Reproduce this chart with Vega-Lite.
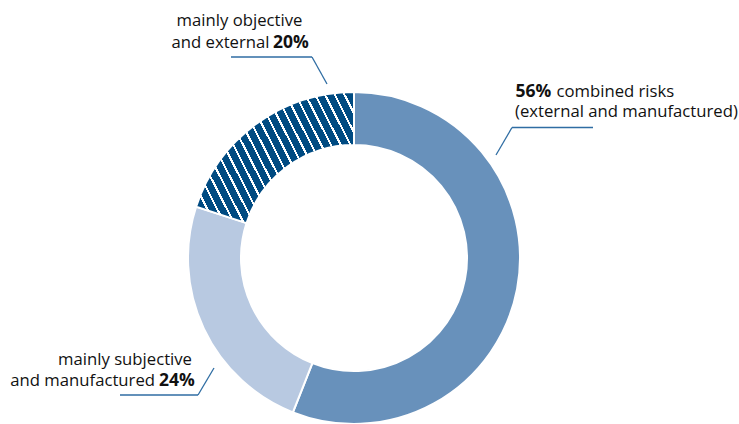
{
  "$schema": "https://vega.github.io/schema/vega-lite/v6.json",
  "width": 332,
  "height": 332,
  "autosize": {"type": "none"},
  "padding": {"left": 188, "top": 92, "right": 219, "bottom": 0},
  "background": "white",
  "config": {"view": {"stroke": null}, "text": {"font": "Open Sans", "fontSize": 16.7, "color": "#111111", "baseline": "alphabetic"}},
  "data": {"values": [
    {"key": "combined", "share": 0.56, "label_a": "combined risks", "label_b": "(external and manufactured)"},
    {"key": "subjective", "share": 0.24, "label_a": "mainly subjective", "label_b": "and manufactured"},
    {"key": "objective", "share": 0.20, "label_a": "mainly objective", "label_b": "and external"}
  ]},
  "layer": [
    {
      "mark": {"type": "arc", "innerRadius": 113, "outerRadius": 166, "stroke": "white", "strokeWidth": 2},
      "encoding": {
        "theta": {"field": "share", "type": "quantitative", "stack": true},
        "order": {"field": "share", "type": "quantitative", "sort": "descending"},
        "color": {
          "condition": {"test": "datum.key === 'objective'", "value": {"gradient": "linear", "x1": 0, "y1": 1, "x2": 1.207, "y2": 0.49, "stops": [
            {"offset": 0, "color": "#004b82"}, {"offset": 0.0335, "color": "#004b82"}, {"offset": 0.0335, "color": "#ffffff"}, {"offset": 0.0435, "color": "#ffffff"},
            {"offset": 0.0435, "color": "#004b82"}, {"offset": 0.077, "color": "#004b82"}, {"offset": 0.077, "color": "#ffffff"}, {"offset": 0.087, "color": "#ffffff"},
            {"offset": 0.087, "color": "#004b82"}, {"offset": 0.1205, "color": "#004b82"}, {"offset": 0.1205, "color": "#ffffff"}, {"offset": 0.1304, "color": "#ffffff"},
            {"offset": 0.1304, "color": "#004b82"}, {"offset": 0.1639, "color": "#004b82"}, {"offset": 0.1639, "color": "#ffffff"}, {"offset": 0.1739, "color": "#ffffff"},
            {"offset": 0.1739, "color": "#004b82"}, {"offset": 0.2074, "color": "#004b82"}, {"offset": 0.2074, "color": "#ffffff"}, {"offset": 0.2174, "color": "#ffffff"},
            {"offset": 0.2174, "color": "#004b82"}, {"offset": 0.2509, "color": "#004b82"}, {"offset": 0.2509, "color": "#ffffff"}, {"offset": 0.2609, "color": "#ffffff"},
            {"offset": 0.2609, "color": "#004b82"}, {"offset": 0.2944, "color": "#004b82"}, {"offset": 0.2944, "color": "#ffffff"}, {"offset": 0.3043, "color": "#ffffff"},
            {"offset": 0.3043, "color": "#004b82"}, {"offset": 0.3378, "color": "#004b82"}, {"offset": 0.3378, "color": "#ffffff"}, {"offset": 0.3478, "color": "#ffffff"},
            {"offset": 0.3478, "color": "#004b82"}, {"offset": 0.3813, "color": "#004b82"}, {"offset": 0.3813, "color": "#ffffff"}, {"offset": 0.3913, "color": "#ffffff"},
            {"offset": 0.3913, "color": "#004b82"}, {"offset": 0.4248, "color": "#004b82"}, {"offset": 0.4248, "color": "#ffffff"}, {"offset": 0.4348, "color": "#ffffff"},
            {"offset": 0.4348, "color": "#004b82"}, {"offset": 0.4683, "color": "#004b82"}, {"offset": 0.4683, "color": "#ffffff"}, {"offset": 0.4783, "color": "#ffffff"},
            {"offset": 0.4783, "color": "#004b82"}, {"offset": 0.5118, "color": "#004b82"}, {"offset": 0.5118, "color": "#ffffff"}, {"offset": 0.5217, "color": "#ffffff"},
            {"offset": 0.5217, "color": "#004b82"}, {"offset": 0.5552, "color": "#004b82"}, {"offset": 0.5552, "color": "#ffffff"}, {"offset": 0.5652, "color": "#ffffff"},
            {"offset": 0.5652, "color": "#004b82"}, {"offset": 0.5987, "color": "#004b82"}, {"offset": 0.5987, "color": "#ffffff"}, {"offset": 0.6087, "color": "#ffffff"},
            {"offset": 0.6087, "color": "#004b82"}, {"offset": 0.6422, "color": "#004b82"}, {"offset": 0.6422, "color": "#ffffff"}, {"offset": 0.6522, "color": "#ffffff"},
            {"offset": 0.6522, "color": "#004b82"}, {"offset": 0.6857, "color": "#004b82"}, {"offset": 0.6857, "color": "#ffffff"}, {"offset": 0.6957, "color": "#ffffff"},
            {"offset": 0.6957, "color": "#004b82"}, {"offset": 0.7292, "color": "#004b82"}, {"offset": 0.7292, "color": "#ffffff"}, {"offset": 0.7391, "color": "#ffffff"},
            {"offset": 0.7391, "color": "#004b82"}, {"offset": 0.7726, "color": "#004b82"}, {"offset": 0.7726, "color": "#ffffff"}, {"offset": 0.7826, "color": "#ffffff"},
            {"offset": 0.7826, "color": "#004b82"}, {"offset": 0.8161, "color": "#004b82"}, {"offset": 0.8161, "color": "#ffffff"}, {"offset": 0.8261, "color": "#ffffff"},
            {"offset": 0.8261, "color": "#004b82"}, {"offset": 0.8596, "color": "#004b82"}, {"offset": 0.8596, "color": "#ffffff"}, {"offset": 0.8696, "color": "#ffffff"},
            {"offset": 0.8696, "color": "#004b82"}, {"offset": 0.9031, "color": "#004b82"}, {"offset": 0.9031, "color": "#ffffff"}, {"offset": 0.913, "color": "#ffffff"},
            {"offset": 0.913, "color": "#004b82"}, {"offset": 0.9465, "color": "#004b82"}, {"offset": 0.9465, "color": "#ffffff"}, {"offset": 0.9565, "color": "#ffffff"},
            {"offset": 0.9565, "color": "#004b82"}, {"offset": 0.99, "color": "#004b82"}, {"offset": 0.99, "color": "#ffffff"}, {"offset": 1, "color": "#ffffff"}
          ]}},
          "field": "key",
          "type": "nominal",
          "scale": {"domain": ["combined", "subjective", "objective"], "range": ["#6891bb", "#b8c9e1", "#004b82"]},
          "legend": null
        }
      }
    },
    {
      "transform": [{"filter": "datum.key === 'objective'"}],
      "mark": {"type": "text", "align": "center"},
      "encoding": {"text": {"field": "label_a"}, "x": {"value": 51.5}, "y": {"value": -66}}
    },
    {
      "transform": [{"filter": "datum.key === 'objective'"}],
      "mark": {"type": "text", "align": "right"},
      "encoding": {"text": {"field": "label_b"}, "x": {"value": 81.5}, "y": {"value": -44.5}}
    },
    {
      "transform": [{"filter": "datum.key === 'objective'"}],
      "mark": {"type": "text", "align": "left", "fontWeight": "bold", "fontSize": 17.5},
      "encoding": {"text": {"field": "share", "type": "quantitative", "format": ".0%"}, "x": {"value": 85}, "y": {"value": -44.5}}
    },
    {
      "transform": [{"filter": "datum.key === 'objective'"}],
      "mark": {"type": "rule", "color": "#2f6da3", "strokeWidth": 1.3},
      "encoding": {"x": {"value": 43}, "y": {"value": -35}, "x2": {"value": 124}, "y2": {"value": -35}}
    },
    {
      "transform": [{"filter": "datum.key === 'objective'"}],
      "mark": {"type": "rule", "color": "#2f6da3", "strokeWidth": 1.3},
      "encoding": {"x": {"value": 124}, "y": {"value": -35}, "x2": {"value": 139}, "y2": {"value": -8}}
    },
    {
      "transform": [{"filter": "datum.key === 'combined'"}],
      "mark": {"type": "text", "align": "left", "fontWeight": "bold", "fontSize": 17.5},
      "encoding": {"text": {"field": "share", "type": "quantitative", "format": ".0%"}, "x": {"value": 327.5}, "y": {"value": 4.5}}
    },
    {
      "transform": [{"filter": "datum.key === 'combined'"}],
      "mark": {"type": "text", "align": "left"},
      "encoding": {"text": {"field": "label_a"}, "x": {"value": 368.5}, "y": {"value": 4.5}}
    },
    {
      "transform": [{"filter": "datum.key === 'combined'"}],
      "mark": {"type": "text", "align": "left"},
      "encoding": {"text": {"field": "label_b"}, "x": {"value": 327}, "y": {"value": 24.5}}
    },
    {
      "transform": [{"filter": "datum.key === 'combined'"}],
      "mark": {"type": "rule", "color": "#2f6da3", "strokeWidth": 1.3},
      "encoding": {"x": {"value": 324}, "y": {"value": 35.5}, "x2": {"value": 405}, "y2": {"value": 35.5}}
    },
    {
      "transform": [{"filter": "datum.key === 'combined'"}],
      "mark": {"type": "rule", "color": "#2f6da3", "strokeWidth": 1.3},
      "encoding": {"x": {"value": 324}, "y": {"value": 35.5}, "x2": {"value": 308}, "y2": {"value": 63}}
    },
    {
      "transform": [{"filter": "datum.key === 'subjective'"}],
      "mark": {"type": "text", "align": "right"},
      "encoding": {"text": {"field": "label_a"}, "x": {"value": 4}, "y": {"value": 273}}
    },
    {
      "transform": [{"filter": "datum.key === 'subjective'"}],
      "mark": {"type": "text", "align": "right"},
      "encoding": {"text": {"field": "label_b"}, "x": {"value": -33}, "y": {"value": 293.5}}
    },
    {
      "transform": [{"filter": "datum.key === 'subjective'"}],
      "mark": {"type": "text", "align": "left", "fontWeight": "bold", "fontSize": 17.5},
      "encoding": {"text": {"field": "share", "type": "quantitative", "format": ".0%"}, "x": {"value": -29}, "y": {"value": 293.5}}
    },
    {
      "transform": [{"filter": "datum.key === 'subjective'"}],
      "mark": {"type": "rule", "color": "#2f6da3", "strokeWidth": 1.3},
      "encoding": {"x": {"value": -68}, "y": {"value": 303}, "x2": {"value": 10}, "y2": {"value": 303}}
    },
    {
      "transform": [{"filter": "datum.key === 'subjective'"}],
      "mark": {"type": "rule", "color": "#2f6da3", "strokeWidth": 1.3},
      "encoding": {"x": {"value": 10}, "y": {"value": 303}, "x2": {"value": 26}, "y2": {"value": 276}}
    }
  ]
}
